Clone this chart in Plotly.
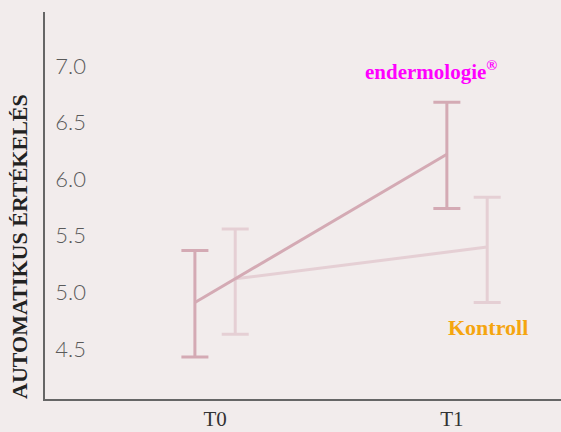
import plotly.graph_objects as go

categories = ["T0", "T1"]
endermologie_mean = [4.91, 6.22]
endermologie_err_plus = [0.46, 0.46]
endermologie_err_minus = [0.48, 0.48]
kontroll_mean = [5.12, 5.40]
kontroll_err_plus = [0.44, 0.44]
kontroll_err_minus = [0.49, 0.49]
y_ticks = [4.5, 5.0, 5.5, 6.0, 6.5, 7.0]

x_base = [0, 1]
off = 0.08
x_end = [x - off for x in x_base]
x_kon = [x + off for x in x_base]

fig = go.Figure()
fig.add_trace(go.Scatter(
    x=x_kon, y=kontroll_mean, mode="lines",
    line=dict(color="#e5cfd4", width=3),
    error_y=dict(type="data", symmetric=False, array=kontroll_err_plus,
                 arrayminus=kontroll_err_minus, color="#e5cfd4", thickness=3, width=13.5),
    showlegend=False, hoverinfo="skip"))
fig.add_trace(go.Scatter(
    x=x_end, y=endermologie_mean, mode="lines",
    line=dict(color="#d4aab4", width=3),
    error_y=dict(type="data", symmetric=False, array=endermologie_err_plus,
                 arrayminus=endermologie_err_minus, color="#d4aab4", thickness=3, width=13.5),
    showlegend=False, hoverinfo="skip"))

fig.update_layout(
    width=561, height=432,
    margin=dict(l=45, r=0, t=12, b=33),
    paper_bgcolor="#f2ecec", plot_bgcolor="#f2ecec",
    xaxis=dict(range=[-0.675, 1.373], tickvals=[0, 0.94], ticktext=categories,
               showgrid=False, zeroline=False, showline=True, linecolor="#666666",
               linewidth=1.5, ticks="",
               tickfont=dict(family="Liberation Serif", size=21, color="#333333")),
    yaxis=dict(range=[4.058, 7.477], tickvals=y_ticks,
               ticktext=[f"{v:.1f}" for v in y_ticks],
               showgrid=False, zeroline=False, showline=True, linecolor="#666666",
               linewidth=1.5, ticks="", ticklabelposition="inside",
               ticklabelstandoff=12,
               tickfont=dict(family="Lato", size=22, color="#5a5a5a", weight=300)),
    annotations=[
        dict(text="AUTOMATIKUS ÉRTÉKELÉS", textangle=-90, xref="paper", yref="paper",
             x=-0.0484, y=0.393, xanchor="center", yanchor="middle", showarrow=False,
             font=dict(family="Liberation Serif", size=22, color="#222222", weight="bold")),
        dict(text="endermologie<sup>®</sup>", xref="paper", yref="paper",
             x=0.748, y=0.850, xanchor="center", yanchor="middle", showarrow=False,
             font=dict(family="Liberation Serif", size=21, color="#ff00ff", weight="bold")),
        dict(text="Kontroll", xref="paper", yref="paper",
             x=0.859, y=0.186, xanchor="center", yanchor="middle", showarrow=False,
             font=dict(family="Liberation Serif", size=22, color="#f5a50f", weight="bold")),
    ],
)

fig.write_html("out.html", config={"displayModeBar": False},
               post_script="document.body.style.margin='0';")
